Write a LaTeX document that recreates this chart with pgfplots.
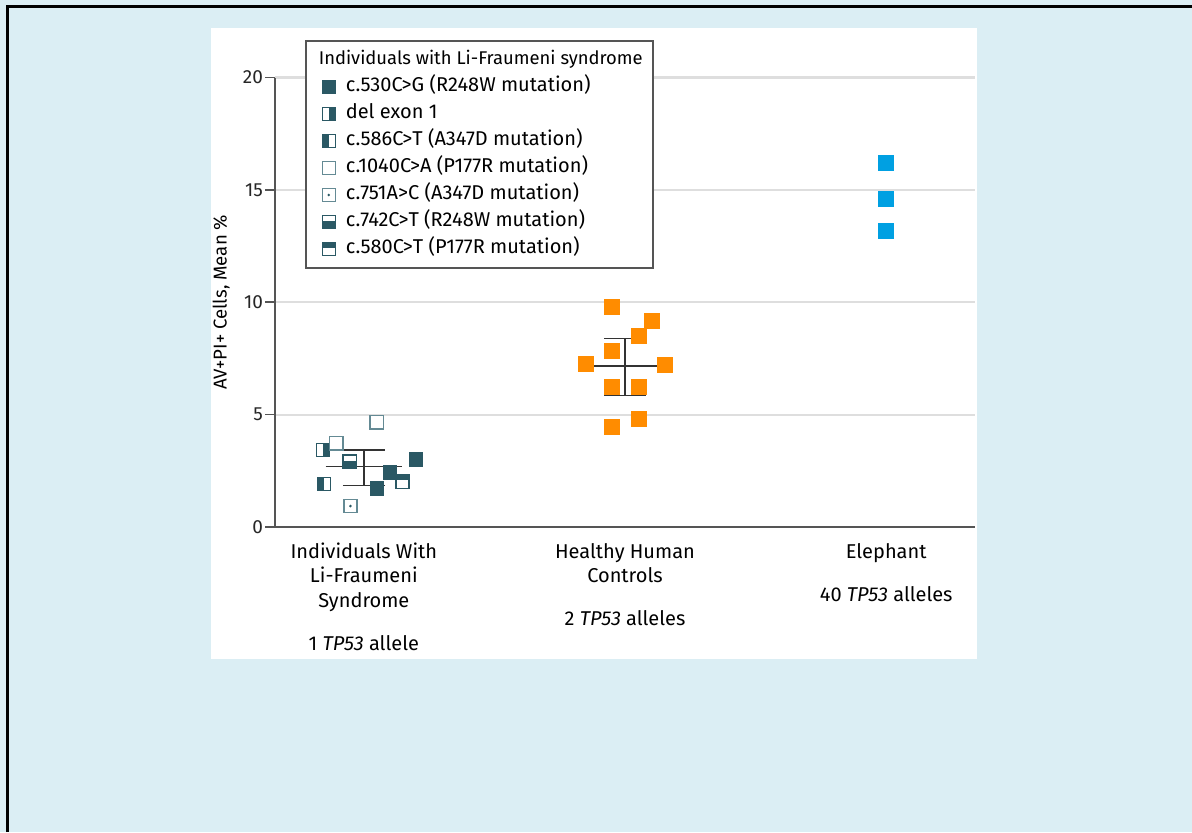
\documentclass[border=0pt]{standalone}
\usepackage{fontspec}
\setmainfont{Fira Sans}
\usepackage{pgfplots}
\pgfplotsset{compat=1.18}

\definecolor{bgblue}{RGB}{219,238,244}
\definecolor{lfsdark}{RGB}{42,88,100}
\definecolor{lfsopen}{RGB}{100,138,148}
\definecolor{hcorange}{RGB}{255,140,0}
\definecolor{elblue}{RGB}{0,160,226}
\definecolor{gridgray}{RGB}{222,222,222}
\definecolor{axgray}{RGB}{85,85,85}

\newcommand\sqpath{\pgfpathrectangle{\pgfqpoint{-\pgfplotmarksize}{-\pgfplotmarksize}}{\pgfqpoint{2\pgfplotmarksize}{2\pgfplotmarksize}}}
% left white, right dark
\pgfdeclareplotmark{sqRdark}{%
  \pgfsetfillcolor{white}\sqpath\pgfusepathqfill
  \pgfsetfillcolor{lfsdark}%
  \pgfpathrectangle{\pgfqpoint{0pt}{-\pgfplotmarksize}}{\pgfqpoint{\pgfplotmarksize}{2\pgfplotmarksize}}\pgfusepathqfill
  \sqpath\pgfusepathqstroke}
% left dark, right white
\pgfdeclareplotmark{sqLdark}{%
  \pgfsetfillcolor{white}\sqpath\pgfusepathqfill
  \pgfsetfillcolor{lfsdark}%
  \pgfpathrectangle{\pgfqpoint{-\pgfplotmarksize}{-\pgfplotmarksize}}{\pgfqpoint{\pgfplotmarksize}{2\pgfplotmarksize}}\pgfusepathqfill
  \sqpath\pgfusepathqstroke}
% top white, bottom dark
\pgfdeclareplotmark{sqBdark}{%
  \pgfsetfillcolor{white}\sqpath\pgfusepathqfill
  \pgfsetfillcolor{lfsdark}%
  \pgfpathrectangle{\pgfqpoint{-\pgfplotmarksize}{-\pgfplotmarksize}}{\pgfqpoint{2\pgfplotmarksize}{1.1\pgfplotmarksize}}\pgfusepathqfill
  \sqpath\pgfusepathqstroke}
% top dark, bottom white
\pgfdeclareplotmark{sqTdark}{%
  \pgfsetfillcolor{white}\sqpath\pgfusepathqfill
  \pgfsetfillcolor{lfsdark}%
  \pgfpathrectangle{\pgfqpoint{-\pgfplotmarksize}{0.2\pgfplotmarksize}}{\pgfqpoint{2\pgfplotmarksize}{0.8\pgfplotmarksize}}\pgfusepathqfill
  \sqpath\pgfusepathqstroke}
% open square with central dot
\pgfdeclareplotmark{sqdot}{%
  \pgfsetfillcolor{white}\sqpath\pgfusepathqfillstroke
  \pgfsetfillcolor{lfsdark}%
  \pgfpathcircle{\pgfpointorigin}{0.7pt}\pgfusepathqfill}

\pgfplotsset{
  lfsleg/.style={legend image code/.code={\path[draw=none,fill=none] (-7.5pt,0pt) -- (7.5pt,0pt);\draw[##1] plot coordinates {(0pt,0pt)};}},
}

\begin{document}
\begin{tikzpicture}
\useasboundingbox (0pt,0pt) rectangle (596pt,416pt);
\fill[bgblue] (0pt,0pt) rectangle (596pt,416pt);
\draw[black, line width=1.3pt] (3.75pt,0pt) -- (3.75pt,412.75pt) -- (596pt,412.75pt);
\fill[white] (105.5pt,86.5pt) rectangle (488.5pt,402pt);
\begin{axis}[
  at={(137.5pt,152.5pt)}, anchor=south west,
  scale only axis, width=350pt, height=224.75pt,
  xmin=-0.34, xmax=2.34, ymin=0, ymax=20,
  axis lines=left, axis line style={-, draw=axgray, line width=0.8pt},
  ytick={0,5,10,15,20},
  ymajorgrids, grid style={draw=gridgray, line width=1pt},
  tick align=outside, major tick length=5pt,
  y tick style={draw=axgray, line width=0.8pt},
  x tick style={draw=none},
  xtick={0,1,2},
  xticklabels={{Individuals With\\Li-Fraumeni\\Syndrome\\[9.5pt]1 \textit{TP53} allele},
               {Healthy Human\\Controls\\[9.5pt]2 \textit{TP53} alleles},
               {Elephant\\[9.5pt]40 \textit{TP53} alleles}},
  xticklabel style={align=center, font=\fontsize{10}{12.1}\selectfont, anchor=north, yshift=0.5pt},
  yticklabel style={font=\fontsize{9.5}{11}\selectfont, color=black!85, xshift=2.5pt},
  /pgf/number format/assume math mode=true,
  ylabel={AV+PI+ Cells, Mean \%},
  every axis y label/.style={at={(axis description cs:-0.077,0.5)}, rotate=90, anchor=center, font=\fontsize{9.3}{11}\selectfont},
  legend style={at={(0.0429,1.083)}, anchor=north west, draw=axgray, line width=0.8pt, fill=white,
    font=\fontsize{10}{11}\selectfont, inner xsep=4pt, inner ysep=4pt, row sep=2.5pt,
    nodes={inner sep=1pt, text height=7pt, text depth=2pt}},
  legend cell align=left,
]
\addlegendimage{empty legend}
\addlegendentry{\hspace*{-13.5pt}\fontsize{9.2}{11}\selectfont Individuals with Li-Fraumeni syndrome}

\addplot[only marks, lfsleg, color=lfsdark, mark=square*, mark size=3.3pt, mark options={line width=0.7pt, fill=lfsdark}]
  coordinates {(0.2,3.01) (0.1,2.42) (0.051,1.72)};
\addlegendentry{c.530C>G (R248W mutation)}
\addplot[only marks, lfsleg, color=lfsdark, mark=sqRdark, mark size=3.3pt, mark options={line width=0.7pt}]
  coordinates {(-0.156,3.43)};
\addlegendentry{del exon 1}
\addplot[only marks, lfsleg, color=lfsdark, mark=sqLdark, mark size=3.3pt, mark options={line width=0.7pt}]
  coordinates {(-0.152,1.91)};
\addlegendentry{c.586C>T (A347D mutation)}
\addplot[only marks, lfsleg, color=lfsopen, mark=square*, mark size=3.3pt, mark options={line width=0.7pt, fill=white}]
  coordinates {(0.049,4.66) (-0.105,3.72)};
\addlegendentry{c.1040C>A (P177R mutation)}
\addplot[only marks, lfsleg, color=lfsopen, mark=sqdot, mark size=3.3pt, mark options={line width=0.7pt}]
  coordinates {(-0.051,0.93)};
\addlegendentry{c.751A>C (A347D mutation)}
\addplot[only marks, lfsleg, color=lfsdark, mark=sqBdark, mark size=3.3pt, mark options={line width=0.7pt}]
  coordinates {(-0.054,2.91)};
\addlegendentry{c.742C>T (R248W mutation)}
\addplot[only marks, lfsleg, color=lfsdark, mark=sqTdark, mark size=3.3pt, mark options={line width=0.7pt}]
  coordinates {(0.148,2.02)};
\addlegendentry{c.580C>T (P177R mutation)}

% healthy human controls
\addplot[only marks, forget plot, mark=square*, mark size=3.75pt, color=hcorange, mark options={draw=none, fill=hcorange}]
  coordinates {(0.949,9.80) (1.103,9.18) (1.052,8.51) (0.949,7.83) (0.851,7.25)
               (1.154,7.21) (0.949,6.22) (1.052,6.22) (1.052,4.79) (0.949,4.44)};
% elephant
\addplot[only marks, forget plot, mark=square*, mark size=3.75pt, color=elblue, mark options={draw=none, fill=elblue}]
  coordinates {(2,16.19) (2,14.58) (2,13.17)};

% mean and SD lines
\pgfplotsset{errl/.style={forget plot, black!80, line width=0.7pt}}
\addplot[errl] coordinates {(-0.146,2.68) (0.146,2.68)};
\addplot[errl] coordinates {(-0.08,3.43) (0.08,3.43)};
\addplot[errl] coordinates {(-0.08,1.86) (0.08,1.86)};
\addplot[errl] coordinates {(0,1.86) (0,3.43)};
\addplot[errl] coordinates {(0.854,7.17) (1.146,7.17)};
\addplot[errl] coordinates {(0.92,8.38) (1.08,8.38)};
\addplot[errl] coordinates {(0.92,5.86) (1.08,5.86)};
\addplot[errl] coordinates {(1,5.86) (1,8.38)};
\end{axis}
\end{tikzpicture}
\end{document}
